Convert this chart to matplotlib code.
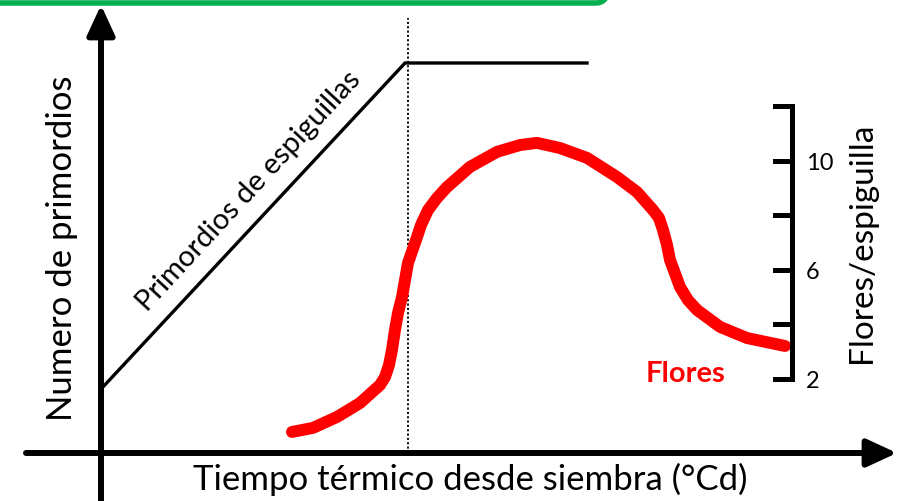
import matplotlib
matplotlib.use("Agg")
import matplotlib.pyplot as plt
from matplotlib.patches import Arc

plt.rcParams["font.family"] = ["Lato", "DejaVu Sans"]

# tiempo termico (unidades del esquema) y numero de primordios
tiempo_prim = [1, 304, 486]
primordios = [65, 390, 390]
tiempo_antesis = 307

# flores por espiguilla (eje derecho)
tiempo_flores = [191, 212, 236, 259, 279, 284, 288, 291, 294, 297, 301, 307,
                 316, 320, 327, 336, 346, 369, 396, 419, 436, 459, 486, 516,
                 536, 552, 558, 562, 566, 569, 579, 587, 596, 619, 646, 684]
flores = [0.06, 0.21, 0.61, 1.12, 1.78, 2.07, 2.51, 3.07, 3.80, 4.42, 5.00,
          6.25, 7.20, 7.64, 8.19, 8.63, 9.03, 9.77, 10.32, 10.57, 10.65,
          10.46, 10.10, 9.40, 8.85, 8.19, 7.90, 7.46, 6.91, 6.36, 5.37, 4.89,
          4.53, 3.91, 3.50, 3.21]
ticks_flores = [2, 4, 6, 8, 10, 12]
labels_flores = ["2", "", "6", "", "10", ""]

fig = plt.figure(figsize=(9, 5.01), dpi=100)
ax = fig.add_axes([0, 0, 1, 1])
ax.set_xlim(-101, 799)
ax.set_ylim(-48, 453)
ax.axis("off")

ax2 = ax.twinx()
ax2.set_ylim(-2.469, 15.883)
ax2.axis("off")

# marco verde superior
ax.plot([-110, 495], [450, 450], color="#00B050", lw=4, solid_capstyle="butt")
ax.add_patch(Arc((495, 462), 24, 24, theta1=270, theta2=330,
                 color="#00B050", lw=4))

# ejes principales con flechas
ax.annotate("", xy=(0, 448), xytext=(0, -50),
            arrowprops=dict(arrowstyle="-|>,head_length=1.3,head_width=0.6",
                            lw=4.3, color="black", mutation_scale=14,
                            shrinkA=0, shrinkB=0))
ax.annotate("", xy=(796, 0), xytext=(-75, 0),
            arrowprops=dict(arrowstyle="-|>,head_length=1.3,head_width=0.6",
                            lw=4.3, color="black", mutation_scale=14,
                            shrinkA=0, shrinkB=0))

# linea de antesis
ax.plot([tiempo_antesis, tiempo_antesis], [0, 435], color="black",
        lw=1.3, ls=(0, (1.2, 1.2)))

# primordios de espiguillas
ax.plot(tiempo_prim, primordios, color="black", lw=2.4,
        solid_joinstyle="miter")
ax.text(148, 262, "Primordios de espiguillas", rotation=47.2,
        rotation_mode="anchor", ha="center", va="center", fontsize=21)

# flores
ax2.plot(tiempo_flores, flores, color="#FF0000", lw=8.6,
         solid_capstyle="round", solid_joinstyle="round")
ax2.text(584, 2.2, "Flores", color="#FF0000", fontsize=21,
         fontweight="bold", ha="center", va="center")

# eje derecho
x_eje = 691
ax2.plot([x_eje, x_eje], [ticks_flores[0], ticks_flores[-1]], color="black",
         lw=3.6, solid_capstyle="projecting")
for t, lab in zip(ticks_flores, labels_flores):
    ax2.plot([x_eje - 17, x_eje], [t, t], color="black", lw=3.6)
    if lab:
        ax2.text(x_eje + 14, t - 0.1, lab, ha="left", va="center",
                 fontsize=17)
ax2.text(761, 7, "Flores/espiguilla", rotation=90, ha="center",
         va="center", fontsize=24)

ax.text(-39, 205, "Numero de primordios", rotation=90, ha="center",
        va="center", fontsize=25)
ax.text(369, -26, "Tiempo térmico desde siembra (°Cd)", ha="center",
        va="center", fontsize=25)

fig.savefig("out.png", dpi=100)
